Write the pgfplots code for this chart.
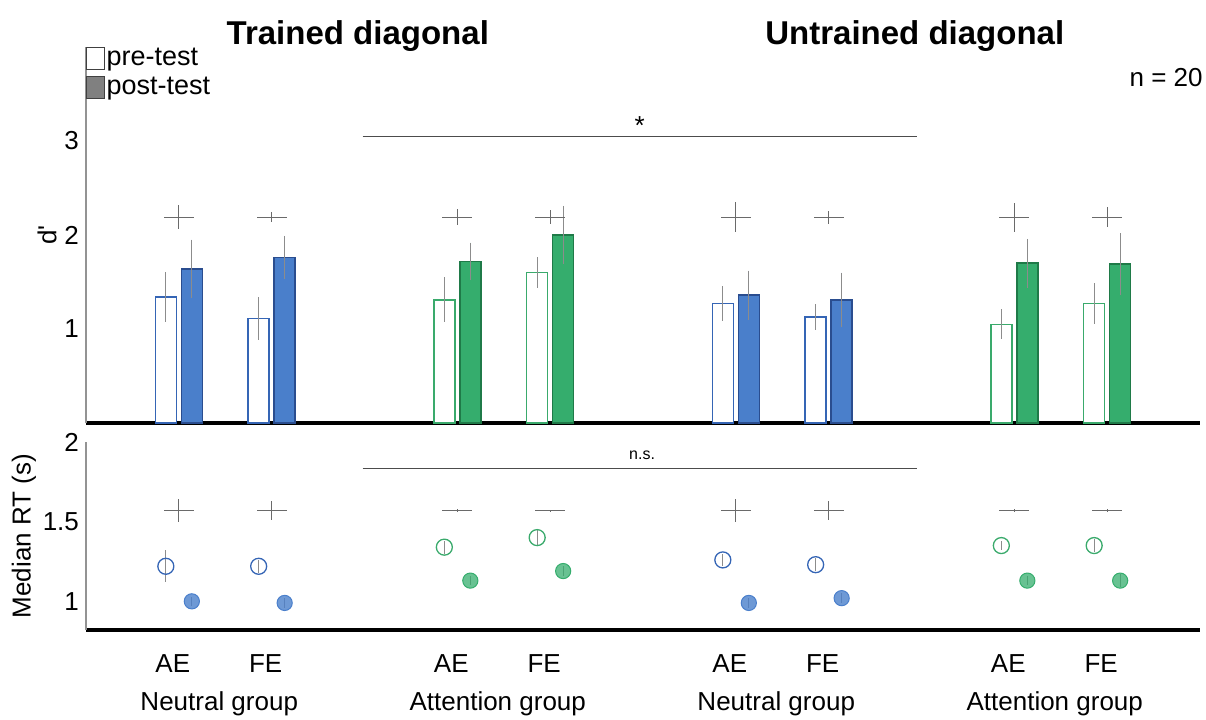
\documentclass[border=0pt]{standalone}
\usepackage{pgfplots}
\usepackage{pgfplotstable}
\pgfplotsset{compat=1.18}
\usepackage{fontspec}
\setmainfont{Liberation Sans}
\definecolor{bfill}{HTML}{4A7FCB}
\definecolor{bedge}{HTML}{3565B5}
\definecolor{bdark}{HTML}{2A4D8F}
\definecolor{gfill}{HTML}{35AD6D}
\definecolor{gedge}{HTML}{3AAA6C}
\definecolor{gdark}{HTML}{1F7A48}
\definecolor{errc}{HTML}{8C8C8C}
\definecolor{plusc}{HTML}{6A6A6A}

% ---------- d' (top) ----------
\pgfplotstableread{
x y e
-0.14 1.34 0.27
0.86 1.11 0.23
5.86 1.27 0.19
6.86 1.13 0.14
}\dNpre
\pgfplotstableread{
x y e
0.14 1.64 0.31
1.14 1.76 0.23
6.14 1.36 0.26
7.14 1.31 0.29
}\dNpost
\pgfplotstableread{
x y e
2.86 1.31 0.24
3.86 1.60 0.165
8.86 1.05 0.16
9.86 1.27 0.22
}\dApre
\pgfplotstableread{
x y e
3.14 1.72 0.20
4.14 2.00 0.31
9.14 1.70 0.26
10.14 1.69 0.33
}\dApost
\pgfplotstableread{
x y e
0 2.19 0.13
1 2.19 0.05
3 2.19 0.085
4 2.19 0.075
6 2.19 0.16
7 2.19 0.07
9 2.19 0.155
10 2.19 0.11
}\dPlus

% ---------- RT (bottom) ----------
\pgfplotstableread{
x y e
-0.14 1.22 0.10
0.86 1.22 0.04
5.86 1.26 0.04
6.86 1.23 0.04
}\rNpre
\pgfplotstableread{
x y e
0.14 1.00 0.03
1.14 0.99 0.03
6.14 0.99 0.03
7.14 1.02 0.03
}\rNpost
\pgfplotstableread{
x y e
2.86 1.34 0.04
3.86 1.40 0.05
8.86 1.35 0.03
9.86 1.35 0.04
}\rApre
\pgfplotstableread{
x y e
3.14 1.13 0.03
4.14 1.19 0.03
9.14 1.13 0.03
10.14 1.13 0.04
}\rApost
\pgfplotstableread{
x y e
0 1.57 0.07
1 1.57 0.058
3 1.57 0.01
4 1.57 0.006
6 1.57 0.07
7 1.57 0.06
9 1.57 0.01
10 1.57 0.01
}\rPlus

\pgfplotsset{
  errb/.style={error bars/y dir=both, error bars/y explicit, error bars/error mark=none,
    error bars/error bar style={draw=errc, line width=0.65pt, solid}},
  prebar/.style={ybar, bar width=10.5pt, bar shift=0pt, fill=white, draw=#1, line width=0.75pt},
  postbar/.style 2 args={ybar, bar width=10.5pt, bar shift=0pt, fill=#1, draw=#2, line width=0.75pt},
  plusm/.style={draw=none, mark=none, error bars/x dir=both, error bars/x fixed=0.16,
    error bars/y dir=both, error bars/y explicit, error bars/error mark=none,
    error bars/error bar style={draw=plusc, line width=0.6pt, solid}},
}

\begin{document}
\begin{tikzpicture}
\useasboundingbox (0,0) rectangle (603pt,-359.5pt);

% ================= TOP AXIS =================
\begin{axis}[
  at={(43pt,-211.5pt)}, anchor=south west,
  scale only axis, width=557pt, height=188pt,
  xmin=-1, xmax=11, ymin=0, ymax=4,
  axis x line*=bottom, axis y line*=left,
  x axis line style={draw=black, line width=2pt, -},
  y axis line style={draw=gray!85, line width=0.6pt, -},
  xtick=\empty, ytick={1,2,3},
  major tick length=0pt,
  /pgf/number format/assume math mode=true,
  tick label style={font=\fontsize{13}{15}\selectfont},
  ylabel={d\textquotesingle},
  ylabel style={at={(axis description cs:-0.035,0.5)}, anchor=center, font=\fontsize{13}{15}\selectfont},
  clip=false,
  legend style={at={(axis description cs:0,1)}, anchor=north west, draw=none, fill=none,
    inner sep=0pt, outer sep=0pt, font=\fontsize{13.5}{15}\selectfont, row sep=2.6pt,
    nodes={inner sep=0.6pt},
    /tikz/every even column/.append style={column sep=0pt}},
  legend cell align=left,
  legend image code/.code={\draw[#1] (0pt,-5.5pt) rectangle (9pt,5.5pt);},
]
\addlegendimage{fill=white, draw=black!75, line width=0.7pt}
\addlegendentry{pre-test}
\addlegendimage{fill=gray, draw=black!75, line width=0.7pt}
\addlegendentry{post-test}

\addplot[prebar=bedge, errb] table[x=x, y=y, y error=e] {\dNpre};
\addplot[postbar={bfill}{bdark}, errb] table[x=x, y=y, y error=e] {\dNpost};
\addplot[prebar=gedge, errb] table[x=x, y=y, y error=e] {\dApre};
\addplot[postbar={gfill}{gdark}, errb] table[x=x, y=y, y error=e] {\dApost};
\addplot[plusm] table[x=x, y=y, y error=e] {\dPlus};

\addplot[black!70, line width=0.7pt] coordinates {(1.98,3.05) (7.95,3.05)};
\node[font=\fontsize{13}{15}\selectfont] at (axis cs:4.965,3.165) {*};

\node[font=\bfseries\fontsize{16.5}{18}\selectfont] at (axis description cs:0.244,1.03) {Trained diagonal};
\node[font=\bfseries\fontsize{16.5}{18}\selectfont] at (axis description cs:0.744,1.03) {Untrained diagonal};
\node[anchor=east, inner sep=0pt, font=\fontsize{13}{15}\selectfont] at (axis description cs:1.0027,0.92) {n = 20};
\end{axis}

% ================= BOTTOM AXIS =================
\begin{axis}[
  at={(43pt,-315pt)}, anchor=south west,
  scale only axis, width=557pt, height=94pt,
  xmin=-1, xmax=11, ymin=0.82, ymax=2,
  axis x line*=bottom, axis y line*=left,
  x axis line style={draw=black, line width=1.8pt, -},
  y axis line style={draw=gray!85, line width=0.6pt, -},
  xtick={0,1,3,4,6,7,9,10},
  xticklabels={AE,FE,AE,FE,AE,FE,AE,FE},
  extra x ticks={0.5,3.5,6.5,9.5},
  extra x tick labels={Neutral group,Attention group,Neutral group,Attention group},
  extra x tick style={xticklabel style={yshift=-19pt}},
  xticklabel style={anchor=base, yshift=-21pt, xshift=-3pt},
  ytick={1,1.5,2},
  major tick length=0pt,
  /pgf/number format/assume math mode=true,
  tick label style={font=\fontsize{13}{15}\selectfont},
  ylabel={Median RT (s)},
  ylabel style={at={(axis description cs:-0.0557,0.5)}, anchor=center, font=\fontsize{13}{15}\selectfont},
  clip=false,
]
\addplot[black!70, line width=0.7pt] coordinates {(1.98,1.835) (7.95,1.835)};
\node[font=\fontsize{8}{10}\selectfont] at (axis cs:4.99,1.915) {n.s.};

\addplot[plusm] table[x=x, y=y, y error=e] {\rPlus};
\addplot[only marks, mark=o, mark size=4pt, mark options={draw=bedge, line width=0.65pt}, errb] table[x=x, y=y, y error=e] {\rNpre};
\addplot[only marks, mark=*, mark size=3.8pt, mark options={draw=bfill, fill=bfill, fill opacity=0.8, line width=0.5pt}, errb] table[x=x, y=y, y error=e] {\rNpost};
\addplot[only marks, mark=o, mark size=4pt, mark options={draw=gedge, line width=0.65pt}, errb] table[x=x, y=y, y error=e] {\rApre};
\addplot[only marks, mark=*, mark size=3.8pt, mark options={draw=gfill, fill=gfill, fill opacity=0.75, line width=0.5pt}, errb] table[x=x, y=y, y error=e] {\rApost};
\end{axis}
\end{tikzpicture}
\end{document}
